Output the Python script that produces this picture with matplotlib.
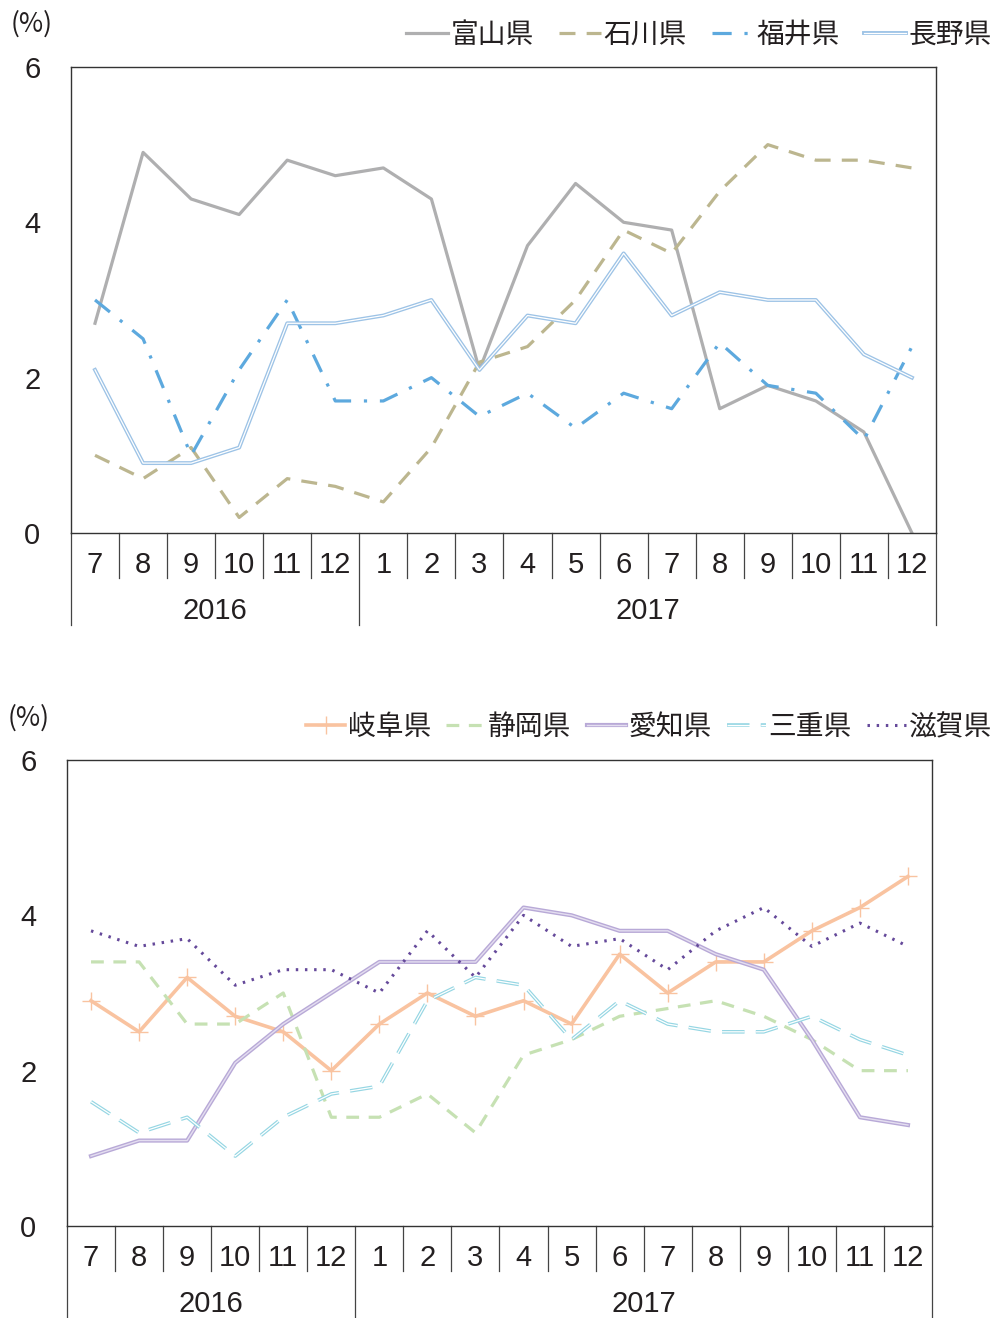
import matplotlib
matplotlib.use('Agg')
import matplotlib.pyplot as plt
import matplotlib.patheffects as pe
import matplotlib.transforms as mtransforms
import numpy as np

# month / year categories
months = ['7', '8', '9', '10', '11', '12',
          '1', '2', '3', '4', '5', '6', '7', '8', '9', '10', '11', '12']
years = ['2016', '2017']
year_len = [6, 12]

# upper panel (%)
toyama = [2.7, 4.9, 4.3, 4.1, 4.8, 4.6, 4.7, 4.3, 2.1, 3.7, 4.5, 4.0, 3.9, 1.6, 1.9, 1.7, 1.3, 0.0]
ishikawa = [1.0, 0.7, 1.1, 0.2, 0.7, 0.6, 0.4, 1.1, 2.2, 2.4, 3.0, 3.9, 3.6, 4.4, 5.0, 4.8, 4.8, 4.7]
fukui = [3.0, 2.5, 1.0, 2.1, 3.0, 1.7, 1.7, 2.0, 1.5, 1.8, 1.35, 1.8, 1.6, 2.45, 1.9, 1.8, 1.2, 2.4]
nagano = [2.1, 0.9, 0.9, 1.1, 2.7, 2.7, 2.8, 3.0, 2.1, 2.8, 2.7, 3.6, 2.8, 3.1, 3.0, 3.0, 2.3, 2.0]

# lower panel (%)
gifu = [2.9, 2.5, 3.2, 2.7, 2.5, 2.0, 2.6, 3.0, 2.7, 2.9, 2.6, 3.5, 3.0, 3.4, 3.4, 3.8, 4.1, 4.5]
shizuoka = [3.4, 3.4, 2.6, 2.6, 3.0, 1.4, 1.4, 1.7, 1.2, 2.2, 2.4, 2.7, 2.8, 2.9, 2.7, 2.4, 2.0, 2.0]
aichi = [0.9, 1.1, 1.1, 2.1, 2.6, 3.0, 3.4, 3.4, 3.4, 4.1, 4.0, 3.8, 3.8, 3.5, 3.3, 2.4, 1.4, 1.3]
mie = [1.6, 1.2, 1.4, 0.9, 1.4, 1.7, 1.8, 2.9, 3.2, 3.1, 2.4, 2.9, 2.6, 2.5, 2.5, 2.7, 2.4, 2.2]
shiga = [3.8, 3.6, 3.7, 3.1, 3.3, 3.3, 3.0, 3.8, 3.2, 4.0, 3.6, 3.7, 3.3, 3.8, 4.1, 3.6, 3.9, 3.6]

CJK = ['Noto Sans CJK JP', 'DejaVu Sans']
NUM = ['Liberation Sans Narrow', 'Liberation Sans', 'DejaVu Sans']
TXT = '#231f20'

fig = plt.figure(figsize=(9.97, 13.18), dpi=100)


def double(color, outer, inner, inner_color='white'):
    return dict(color=inner_color, lw=inner,
                path_effects=[pe.Stroke(linewidth=outer, foreground=color), pe.Normal()])


def setup(ax):
    x = np.arange(len(months))
    ax.set_xlim(-0.5, len(months) - 0.5)
    ax.set_ylim(0, 6)
    ax.set_xticks([])
    ax.set_yticks([0, 2, 4, 6])
    ax.tick_params(axis='y', length=0, pad=22, labelsize=21, labelcolor=TXT)
    for lab in ax.get_yticklabels():
        lab.set_family(NUM)
    for s in ax.spines.values():
        s.set_color('#333333')
        s.set_linewidth(1.0)
    trans = mtransforms.blended_transform_factory(ax.transData, ax.transAxes)
    bounds = list(np.cumsum([0] + year_len) - 0.5)
    for b in np.arange(len(months) + 1) - 0.5:
        depth = 0.197 if b in bounds else 0.0966
        ax.plot([b, b], [0, -depth], transform=trans, color='#444444', lw=0.9, clip_on=False)
    for i, m in enumerate(months):
        ax.text(x[i], -0.068, m, transform=trans, ha='center', va='center',
                fontsize=21, family=NUM, color=TXT)
    for yname, start, n in zip(years, bounds[:-1], year_len):
        ax.text(start + n / 2, -0.168, yname, transform=trans, ha='center', va='center',
                fontsize=21, family=NUM, color=TXT)
    return x


# ---------- upper panel ----------
ax1 = fig.add_axes([0.0712, 0.5956, 0.8676, 0.3536])
x = setup(ax1)
h1 = ax1.plot(x, toyama, color='#afafb0', lw=2.3, label='富山県')[0]
h2 = ax1.plot(x, ishikawa, color='#bcb68f', lw=2.3, dashes=(5, 3.5), label='石川県')[0]
h3 = ax1.plot(x, fukui, color='#5da9de', lw=2.3, dashes=(6, 4, 1, 4), label='福井県')[0]
h4 = ax1.plot(x, nagano, label='長野県', **double('#9dc3e6', 2.8, 0.9))[0]

fig.legend(handles=[h1, h2, h3, h4], loc='center right', bbox_to_anchor=(1.02, 0.9734),
           ncol=4, frameon=False, prop={'family': CJK, 'size': 20},
           handlelength=1.5, handletextpad=0.1, columnspacing=0.9, labelcolor=TXT)
fig.text(0.032, 1 - 24 / 1318, '(%)', ha='center', va='center',
         family=CJK, fontsize=19, color=TXT)

# ---------- lower panel ----------
ax2 = fig.add_axes([0.0672, 0.0698, 0.8676, 0.3536])
x = setup(ax2)
g1 = ax2.plot(x, gifu, color='#f9c3a0', lw=2.6, marker='+', ms=13, mew=1.0, label='岐阜県')[0]
g2 = ax2.plot(x, shizuoka, color='#c6e1b3', lw=2.3, dashes=(4, 3), label='静岡県')[0]
g3 = ax2.plot(x, aichi, label='愛知県', **double('#b8a9d7', 3.0, 1.0, '#e4def0'))[0]
g4 = ax2.plot(x, mie, label='三重県', dashes=(18, 9), **double('#95d6e3', 2.6, 0.9))[0]
g5 = ax2.plot(x, shiga, color='#65499a', lw=2.2, dashes=(0.8, 2.2), label='滋賀県')[0]

fig.legend(handles=[g1, g2, g3, g4, g5], loc='center right', bbox_to_anchor=(1.02, 0.4484),
           ncol=5, frameon=False, prop={'family': CJK, 'size': 20},
           handlelength=1.4, handletextpad=0.1, columnspacing=0.55, labelcolor=TXT)
fig.text(0.029, 1 - 718 / 1318, '(%)', ha='center', va='center',
         family=CJK, fontsize=19, color=TXT)

fig.savefig('out.png', dpi=100)
